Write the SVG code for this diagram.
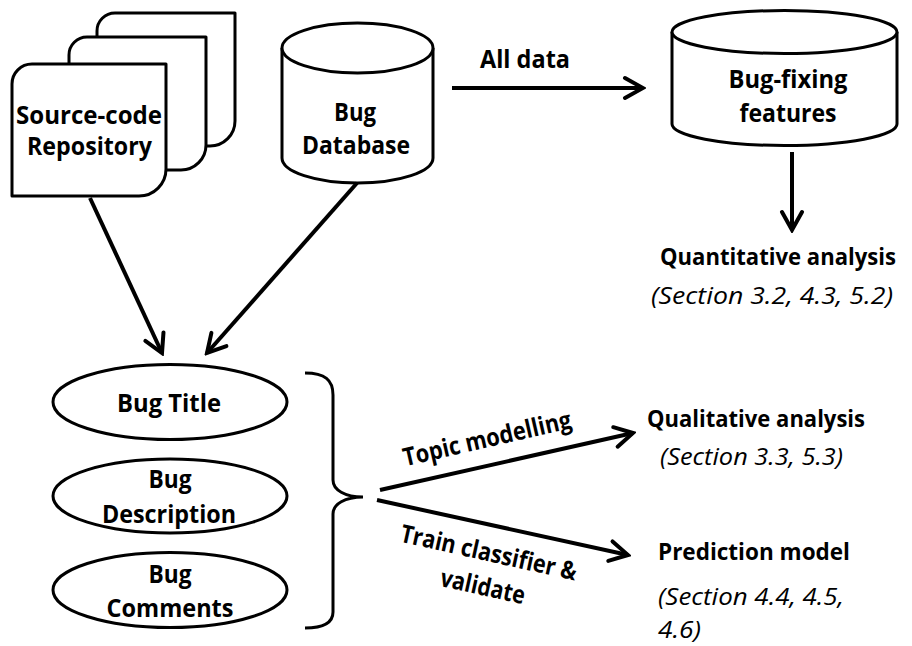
<svg xmlns="http://www.w3.org/2000/svg" width="912" height="646" viewBox="0 0 912 646">
<style>
.shape{fill:#fff;stroke:#000;stroke-width:3;stroke-linejoin:round}
.lbl{font-family:"Open Sans","Liberation Sans",sans-serif;font-weight:bold;font-size:25px;fill:#000;text-anchor:middle}
.lblS{font-family:"Open Sans","Liberation Sans",sans-serif;font-weight:bold;font-size:22.5px;fill:#000}
.ital{font-family:"Open Sans","Liberation Sans",sans-serif;font-style:italic;font-size:24px;fill:#000}
.conn{fill:none;stroke:#000;stroke-width:4;marker-end:url(#arr)}
</style>
<defs>
<marker id="arr" markerUnits="userSpaceOnUse" viewBox="0 0 24 26" refX="21" refY="13" markerWidth="24" markerHeight="26" orient="auto">
<path d="M3,3 L21,13 L3,23" fill="none" stroke="#000" stroke-width="4" stroke-linecap="round" stroke-linejoin="miter"/>
</marker>
</defs>
<rect width="912" height="646" fill="#fff"/>
<g id="repo">
<path class="shape" d="M97,146 L97,31 A18,18 0 0 1 115,13 L235,13 L235,121 A25,25 0 0 1 210,146 Z"/>
<path class="shape" d="M69,170 L69,55 A18,18 0 0 1 87,37 L206,37 L206,145 A25,25 0 0 1 181,170 Z"/>
<path class="shape" d="M12,196 L12,84 A20,20 0 0 1 32,64 L166,64 L166,169 A27,27 0 0 1 139,196 Z"/>
<text class="lbl" x="89" y="124" textLength="146" lengthAdjust="spacingAndGlyphs">Source-code</text>
<text class="lbl" x="89.5" y="155" textLength="125" lengthAdjust="spacingAndGlyphs">Repository</text>
</g>
<g id="bugdb">
<path class="shape" d="M282,48 L282,158 A75.5,25 0 0 0 433,158 L433,48"/>
<ellipse class="shape" cx="357.5" cy="48" rx="75.5" ry="25"/>
<text class="lbl" x="355" y="121" textLength="42" lengthAdjust="spacingAndGlyphs">Bug</text>
<text class="lbl" x="356" y="154" textLength="108" lengthAdjust="spacingAndGlyphs">Database</text>
</g>
<g id="features">
<path class="shape" d="M672,32 L672,124 A112.5,21.5 0 0 0 897,124 L897,32"/>
<ellipse class="shape" cx="784.5" cy="32" rx="112.5" ry="21.5"/>
<text class="lbl" x="788" y="88" textLength="119" lengthAdjust="spacingAndGlyphs">Bug-fixing</text>
<text class="lbl" x="788" y="122" textLength="97" lengthAdjust="spacingAndGlyphs">features</text>
</g>
<g id="quant">
<text class="lblS" x="660" y="265" textLength="236" lengthAdjust="spacingAndGlyphs">Quantitative analysis</text>
<text class="ital" x="651" y="304" textLength="242" lengthAdjust="spacingAndGlyphs">(Section 3.2, 4.3, 5.2)</text>
</g>
<g id="bugtitle">
<ellipse class="shape" cx="170" cy="402" rx="117" ry="37.5"/>
<text class="lbl" x="169" y="412" textLength="104" lengthAdjust="spacingAndGlyphs">Bug Title</text>
</g>
<g id="bugdesc">
<ellipse class="shape" cx="170" cy="496" rx="117" ry="37"/>
<text class="lbl" x="170" y="488" textLength="43" lengthAdjust="spacingAndGlyphs">Bug</text>
<text class="lbl" x="169" y="523" textLength="134" lengthAdjust="spacingAndGlyphs">Description</text>
</g>
<g id="bugcomments">
<ellipse class="shape" cx="170" cy="590" rx="117" ry="37.5"/>
<text class="lbl" x="170" y="583" textLength="43" lengthAdjust="spacingAndGlyphs">Bug</text>
<text class="lbl" x="170" y="617" textLength="127" lengthAdjust="spacingAndGlyphs">Comments</text>
</g>
<g id="brace">
<path d="M305,373 C325,373 333,380 333,395 L333,480 C333,490 345,497 363,497 C345,497 333,504 333,514 L333,612 C333,622 325,628 305,628" fill="none" stroke="#000" stroke-width="3"/>
</g>
<g id="qual">
<text class="lblS" x="647" y="427" textLength="218" lengthAdjust="spacingAndGlyphs">Qualitative analysis</text>
<text class="ital" x="660" y="465" textLength="183" lengthAdjust="spacingAndGlyphs">(Section 3.3, 5.3)</text>
</g>
<g id="pred">
<text class="lblS" x="658" y="560" textLength="192" lengthAdjust="spacingAndGlyphs">Prediction model</text>
<text class="ital" x="658" y="605" textLength="186" lengthAdjust="spacingAndGlyphs">(Section 4.4, 4.5,</text>
<text class="ital" x="658" y="638" textLength="43" lengthAdjust="spacingAndGlyphs">4.6)</text>
</g>
<g id="connectors">
<path class="conn" d="M452,88 L643,88"/>
<path class="conn" d="M792,152 L792,230"/>
<path class="conn" d="M90,198 L162,353"/>
<path class="conn" d="M357,183 L207,353"/>
<path class="conn" d="M380,490 L633,433"/>
<path class="conn" d="M377,500 L628,555"/>
<text class="lbl" x="525" y="68" textLength="90" lengthAdjust="spacingAndGlyphs">All data</text>
<text class="lbl" transform="translate(489,447) rotate(-13)" textLength="172" lengthAdjust="spacingAndGlyphs">Topic modelling</text>
<text class="lbl" transform="translate(487,561) rotate(12.5)" textLength="180" lengthAdjust="spacingAndGlyphs">Train classifier &amp;</text>
<text class="lbl" transform="translate(481,595) rotate(12.5)" textLength="86" lengthAdjust="spacingAndGlyphs">validate</text>
</g>
</svg>
